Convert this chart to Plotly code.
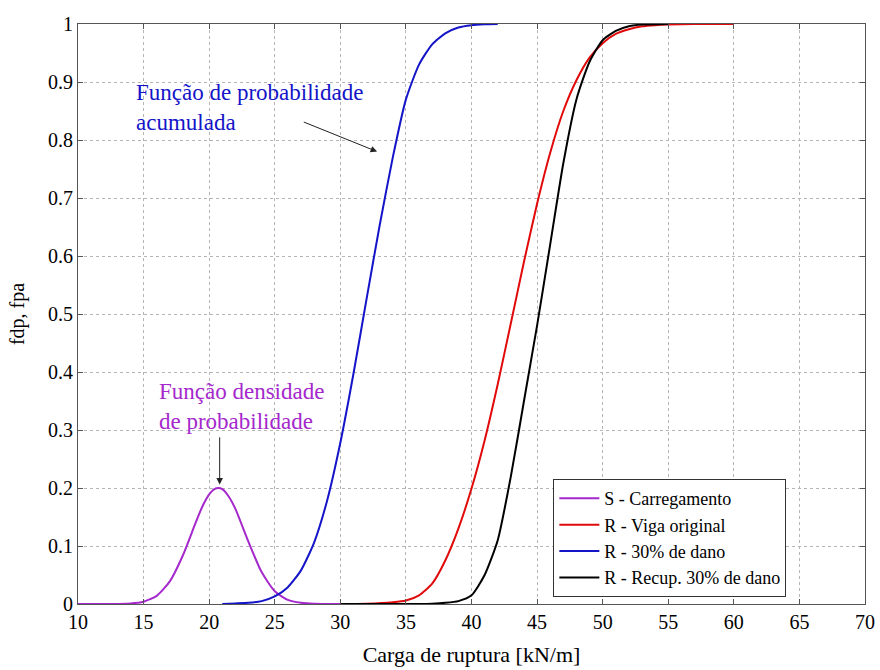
import plotly.graph_objects as go

# S - Carregamento (fdp)
x_s = [10, 12, 14, 15, 16, 17, 18, 19, 19.5, 20, 20.4, 20.7, 21.0, 21.5, 22, 23, 24, 25, 26,
       27, 28, 30]
y_s = [0, 0, 0.001, 0.004, 0.014, 0.039, 0.084, 0.142, 0.169, 0.189, 0.198, 0.2, 0.198,
       0.185, 0.164, 0.107, 0.055, 0.022, 0.007, 0.002, 0.0003, 0]

# R - 30% de dano (fpa)
x_d = [21, 22, 23, 24, 25, 26, 27, 28, 29, 30, 31, 32, 33, 34, 35, 36, 37, 38, 39, 40, 41, 42]
y_d = [0.0002, 0.001, 0.002, 0.005, 0.013, 0.029, 0.058, 0.106, 0.179, 0.278, 0.397,
       0.526, 0.653, 0.77, 0.87, 0.93, 0.965, 0.984, 0.994, 0.998, 0.9995, 1.0]

# R - Viga original (fpa)
x_o = [30, 32, 34, 35, 36, 37, 38, 39, 40, 41, 42, 43, 44, 45, 46, 47, 48, 49, 50,
       51, 52, 53, 54, 55, 57, 60]
y_o = [0, 0.0005, 0.003, 0.006, 0.015, 0.035, 0.075, 0.13, 0.199, 0.282, 0.379, 0.484,
       0.59, 0.69, 0.778, 0.85, 0.903, 0.942, 0.967, 0.983, 0.991, 0.996, 0.998, 0.999,
       1.0, 1.0]

# R - Recup. 30% de dano (fpa)
x_r = [30, 34, 36, 37, 38, 39, 40, 41, 42, 43, 44, 45, 46, 47, 48, 49, 50, 51, 52, 53, 55]
y_r = [0, 0, 0, 0.0005, 0.002, 0.005, 0.015, 0.05, 0.11, 0.22, 0.35, 0.48, 0.62, 0.76,
       0.87, 0.935, 0.972, 0.988, 0.996, 0.999, 1.0]

serif = "Liberation Serif, Times New Roman, serif"
purple = "rgb(165, 40, 205)"
blue = "rgb(20, 20, 200)"
red = "rgb(225, 10, 10)"

fig = go.Figure()
series = [
    (x_s, y_s, "S - Carregamento", purple),
    (x_o, y_o, "R - Viga original", red),
    (x_d, y_d, "R - 30% de dano", blue),
    (x_r, y_r, "R - Recup. 30% de dano", "black"),
]
for xs, ys, nm, col in series:
    fig.add_trace(go.Scatter(x=xs, y=ys, mode="lines", name=nm,
                             line=dict(color=col, width=2, shape="spline", smoothing=0.6)))

fig.add_annotation(x=14.3, y=0.856, xref="x", yref="y", text="Função de probabilidade<br>acumulada",
                   showarrow=False, xanchor="left", align="left",
                   font=dict(family=serif, size=23, color=blue))
fig.add_annotation(x=32.8, y=0.78, ax=27.1, ay=0.832, axref="x", ayref="y",
                   text="", showarrow=True, arrowhead=2, arrowsize=1.3, arrowwidth=1, arrowcolor="#222")

fig.add_annotation(x=16.0, y=0.34, xref="x", yref="y", text="Função densidade<br>de probabilidade",
                   showarrow=False, xanchor="left", align="left",
                   font=dict(family=serif, size=23, color=purple))
fig.add_annotation(x=20.8, y=0.206, ax=20.8, ay=0.29, axref="x", ayref="y",
                   text="", showarrow=True, arrowhead=2, arrowsize=1.3, arrowwidth=1, arrowcolor="#222")

axis_common = dict(showgrid=True, gridcolor="#b5b5b5", griddash="dot", gridwidth=1,
                   showline=True, linecolor="#555", linewidth=1, mirror="ticks",
                   ticks="inside", ticklen=5, tickcolor="#555", zeroline=False, automargin=False,
                   tickfont=dict(family=serif, size=20, color="black"))

fig.update_layout(
    width=880, height=670,
    margin=dict(l=78, r=15, t=24, b=66),
    plot_bgcolor="white", paper_bgcolor="white",
    xaxis=dict(range=[10, 70], dtick=5, title=dict(text="Carga de ruptura [kN/m]", standoff=14,
               font=dict(family=serif, size=22, color="black")), **axis_common),
    yaxis=dict(range=[0, 1], dtick=0.1, tickformat="~g",
               title=dict(text="fdp, fpa", standoff=18, font=dict(family=serif, size=20, color="black")),
               **axis_common),
    legend=dict(x=0.604, y=0.012, xanchor="left", yanchor="bottom",
                bgcolor="white", bordercolor="#333", borderwidth=1,
                font=dict(family=serif, size=18, color="black"),
                tracegroupgap=0, itemwidth=40),
    showlegend=True,
)

# page body has a default 8px margin; drop it so the figure fills the window
fig.write_html("out.html", config={"displayModeBar": False},
               post_script="document.body.style.margin='0';")
